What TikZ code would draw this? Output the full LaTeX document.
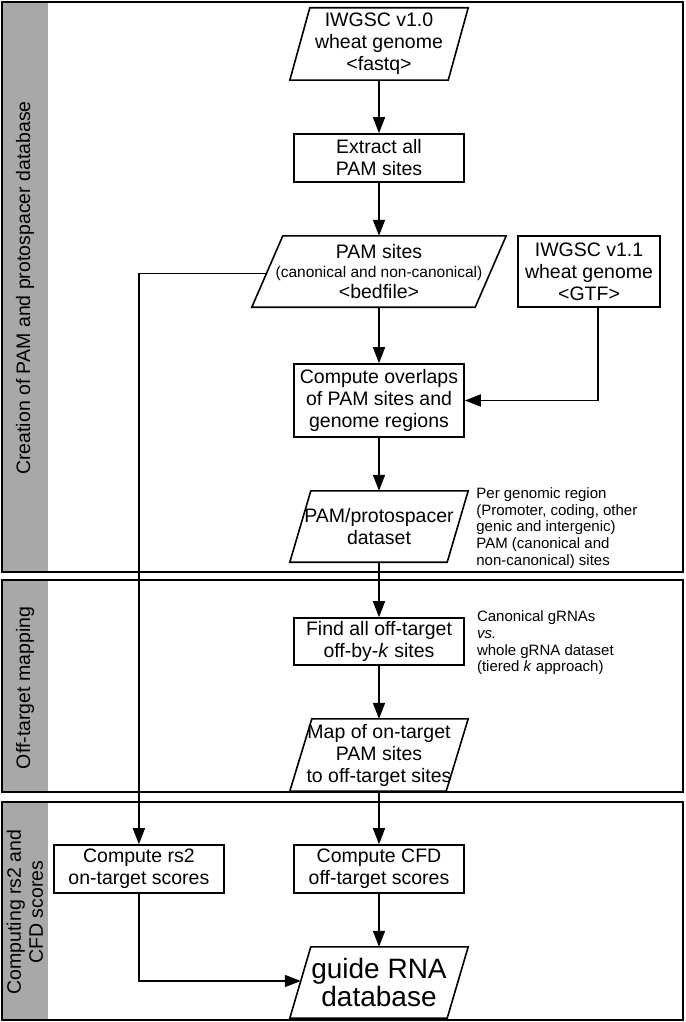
\documentclass[tikz,border=0pt]{standalone}
\usepackage{fontspec}
\setmainfont{Liberation Sans}
\usepackage{tikz}
\usetikzlibrary{arrows.meta,positioning,calc}

\definecolor{stripgrey}{HTML}{A8A8A8}
\newcommand{\mainfs}{\fontsize{19.5}{22}\selectfont}
\newcommand{\notefs}{\fontsize{15}{16.6}\selectfont}
% slanted outline round a data node
\newcommand{\slantbox}[2]{%
  \draw[line width=1.6pt] ([xshift=#2]#1.north west) -- (#1.north east)
    -- ([xshift=-#2]#1.south east) -- (#1.south west) -- cycle;}

\begin{document}
\begin{tikzpicture}[
  x=1pt, y=-1pt,
  arr/.style={-{Triangle[length=16pt,width=12pt]}, line width=1.6pt},
  proc/.style={draw, line width=1.6pt, minimum width=170pt, minimum height=48pt,
    inner sep=0pt, align=center, font=\mainfs},
  data/.style={minimum width=178pt, minimum height=71pt, inner sep=0pt,
    align=center, font=\mainfs},
  note/.style={inner sep=0pt, align=left, font=\notefs},
  lab/.style={rotate=90, align=center, font=\mainfs},
  panel/.style={draw, line width=1.8pt},
  node distance=53pt and 16pt
]
\useasboundingbox (0,0) rectangle (685,1022);

% ===== PANELS =====
\fill[white] (0,0) rectangle (685,1022);
\fill[stripgrey] (2,2) rectangle (48,572);
\fill[stripgrey] (2,580) rectangle (48,792);
\fill[stripgrey] (2,802) rectangle (48,1020);
\draw[panel] (2,2) rectangle (683,572);
\draw[panel] (2,580) rectangle (683,792);
\draw[panel] (2,802) rectangle (683,1020);

\node[lab] (lab_create) at (25,288) {Creation of PAM and protospacer database};
\node[lab] (lab_offtarget) at (25,688) {Off-target mapping};
\node[lab] (lab_scores) at (25,912) {Computing rs2 and\\CFD scores};

% ===== CREATION OF PAM DATABASE =====
\node[data, minimum height=72pt] (genome10) at (379,44) {IWGSC v1.0\\wheat genome\\<fastq>};
\node[proc, below=of genome10] (extract) {Extract all\\PAM sites};
\node[data, minimum width=254pt, below=of extract] (pamsites)
  {PAM sites\\[-3pt]{\fontsize{15.5}{17}\selectfont(canonical and non-canonical)}\\[-1pt]<bedfile>};
\node[proc, minimum width=142pt, minimum height=71pt, right=11pt of pamsites] (gtf)
  {IWGSC v1.1\\wheat genome\\<GTF>};
\node[proc, minimum height=73pt, below=56pt of pamsites] (overlaps)
  {Compute overlaps\\of PAM sites and\\genome regions};
\node[data, below=of overlaps] (pamdata) {PAM/protospacer\\dataset};
\node[note, right=8pt of pamdata, yshift=-1.5pt] (pamnote)
  {Per genomic region\\(Promoter, coding, other\\genic and intergenic)\\PAM (canonical and\\non-canonical) sites};

\slantbox{genome10}{20pt}
\slantbox{pamsites}{31pt}
\slantbox{pamdata}{21pt}

\draw[arr] (genome10) -- (extract);
\draw[arr] (extract) -- (pamsites);
\draw[arr] (pamsites) -- (overlaps);
\draw[arr] ([xshift=9pt]gtf.south) |- (overlaps.east);
\draw[arr] (overlaps) -- (pamdata);

% ===== OFF-TARGET MAPPING =====
\node[proc, minimum height=47pt, below=55pt of pamdata] (findoff)
  {Find all off-target\\off-by-\textit{k} sites};
\node[note, right=12pt of findoff, yshift=-1.5pt] (offnote)
  {Canonical gRNAs\\\textit{vs.}\\whole gRNA dataset\\(tiered \textit{k} approach)};
\node[data, minimum height=72pt, below=of findoff] (offmap)
  {Map of on-target\\PAM sites\\to off-target sites};

\slantbox{offmap}{22pt}

\draw[arr] (pamdata) -- (findoff);
\draw[arr] (findoff) -- (offmap);

% ===== SCORES =====
\node[proc, below=of offmap] (cfdscore) {Compute CFD\\off-target scores};
\node[proc, left=68.5pt of cfdscore] (rsscore) {Compute rs2\\on-target scores};
\node[data, below=of cfdscore, font=\fontsize{28}{26}\selectfont] (guidedb)
  {guide RNA\\database};

\slantbox{guidedb}{21pt}

\draw[arr] (offmap) -- (cfdscore);
\draw[arr] (cfdscore) -- (guidedb);
\draw[arr] ([xshift=14pt,yshift=-2pt]pamsites.west) -| (rsscore.north);
\draw[arr] (rsscore.south) |- ([xshift=11pt,yshift=1.5pt]guidedb.west);

\end{tikzpicture}
\end{document}
